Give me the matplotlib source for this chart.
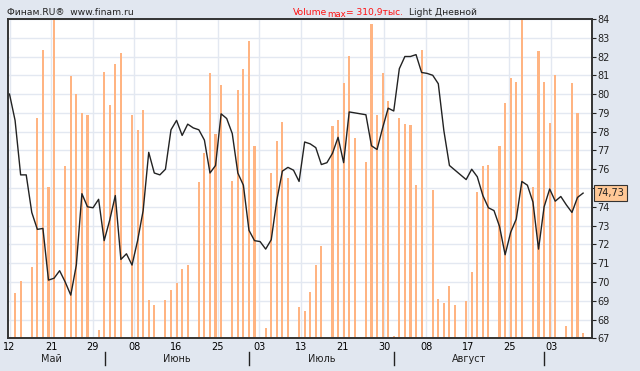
import numpy as np
import matplotlib
matplotlib.use("Agg")
import matplotlib.pyplot as plt
from matplotlib.transforms import blended_transform_factory

plt.rcParams['font.family'] = ['DejaVu Sans']

# close price, one value per slot (weekends take one empty slot)
close = [80.0, 78.6, 75.7, 75.7, 73.7, 72.8, 72.85, 70.1, 70.2, 70.6,
         70.0, 69.3, 70.9, 74.7, 74.0, 73.95, 74.4, 72.2, 73.3, 74.6,
         71.2, 71.5, 70.9, 72.2, 73.8, 76.9, 75.8, 75.7, 76.0, 78.1,
         78.6, 77.8, 78.4, 78.2, 78.1, 77.55, 75.8, 76.2, 78.95, 78.7,
         77.9, 75.8, 75.15, 72.75, 72.2, 72.15, 71.75, 72.25, 74.35, 75.9,
         76.1, 75.95, 75.35, 77.45, 77.35, 77.15, 76.25, 76.35, 76.85, 77.7,
         76.35, 79.05, 79.0, 78.95, 78.9, 77.25, 77.05, 78.2, 79.25, 79.1,
         81.35, 82.0, 82.0, 82.1, 81.15, 81.1, 81.0, 80.55, 78.05, 76.2,
         75.95, 75.7, 75.45, 76.0, 75.6, 74.6, 73.95, 73.8, 72.95, 71.45,
         72.65, 73.35, 75.35, 75.15, 74.25, 71.75, 74.0, 74.95, 74.3, 74.55,
         74.1, 73.7, 74.5, 74.73]

# volume, thousands
volume = [0, 44.5, 55.7, 0, 69.3, 214.2, 280.7, 147.1, 310.9, 0,
          167.6, 255.6, 237.5, 219.2, 217.6, 0, 8.1, 259.0, 227.6, 266.8,
          277.3, 0, 217.6, 202.4, 222.3, 37.3, 32.3, 0, 37.3, 46.9,
          53.8, 67.2, 71.8, 0, 151.7, 180.3, 258.4, 198.7, 246.9, 0,
          152.7, 242.2, 261.8, 289.8, 186.9, 0, 9.6, 160.7, 191.8, 210.5,
          156.1, 0, 30.8, 26.7, 45.1, 71.8, 89.9, 0, 207.1, 212.3,
          248.4, 274.5, 195.2, 0, 171.6, 305.9, 217.0, 258.4, 230.7, 2.2,
          214.5, 208.6, 207.7, 149.2, 281.1, 0, 144.6, 37.9, 34.2, 51.0,
          32.3, 0, 36.4, 65.0, 142.7, 168.2, 169.1, 0, 187.2, 228.8,
          253.1, 249.3, 310.9, 0, 147.4, 280.1, 249.3, 209.5, 255.9, 0,
          12.1, 248.4, 218.9, 5.6]

day_labels = ["12", "21", "29", "08", "16", "25", "03", "13", "21", "30",
              "08", "17", "25", "03"]
months = ["Май", "Июнь", "Июль", "Август"]
vol_max = 310.9

x = np.arange(len(close))
bg = '#E1E7F0'
grid_c = '#E3E8F1'
bar_c = '#FFB482'

fig = plt.figure(figsize=(6.4, 3.71), dpi=100, facecolor=bg)
axv = fig.add_axes([0.0125, 0.088, 0.9125, 0.861])
axp = axv.twinx()

# volume bars + grid (behind)
axv.set_facecolor('white')
axv.bar(x, volume, width=0.38, color=bar_c, zorder=2)
axv.set_ylim(0, vol_max)
axv.set_yticks(np.linspace(0, vol_max, 18))
axv.tick_params(axis='y', left=False, labelleft=False, right=False)
day_pos = np.arange(len(day_labels)) * 7.48
axv.set_xticks(day_pos)
axv.set_xticklabels(day_labels, fontsize=7)
axv.tick_params(axis='x', length=0, pad=2.5)
axv.grid(True, color=grid_c, linewidth=1, zorder=0)
axv.set_axisbelow(True)
axv.set_xlim(-0.27, 104.6)

# price line
last = close[-1]
axp.plot(x, close, color='#222222', linewidth=1.0, zorder=3)
axp.set_ylim(67, 84)
price_ticks = np.arange(67, 85)
axp.set_yticks(price_ticks)
# the label under the last-value box is hidden
axp.set_yticklabels(["" if abs(t - last) < 0.5 else str(t) for t in price_ticks])
axp.tick_params(axis='y', labelsize=7, length=3, width=0.8, pad=1,
                colors='#222222')
for ax in (axv, axp):
    for s in ax.spines.values():
        s.set_color('#333333')
        s.set_linewidth(1.2)

# last value box
axp.annotate("{:.2f}".format(last).replace('.', ','),
             xy=(1.0, last), xycoords=('axes fraction', 'data'),
             xytext=(3.2, 0), textcoords='offset points', va='center',
             ha='left', fontsize=7, color='#222222', annotation_clip=False,
             bbox=dict(boxstyle='square,pad=0.3', fc='#FFC896',
                       ec='#333333', lw=0.8))

# month row
trans = blended_transform_factory(axv.transData, axv.transAxes)
month_pos = [7.6, 30.05, 56.0, 82.5]
month_sep = [17.1, 43.0, 69.0, 96.0]
for m, p in zip(months, month_pos):
    axv.text(p, -0.066, m, transform=trans, ha='center', va='center',
             fontsize=7, color='#222222')
for s in month_sep:
    axv.plot([s, s], [-0.044, -0.082], transform=trans, color='#222222',
             linewidth=1, clip_on=False)

# header
head_y = 0.955
fig.text(0.011, head_y, "Финам.RU®  www.finam.ru", fontsize=6.6,
         color='#222222', va='bottom')
red = '#FF1010'
t1 = fig.text(0.457, head_y, "Volume", fontsize=6.6, color=red, va='bottom')
axv.annotate("max", xy=(1, 0), xycoords=t1, xytext=(0.3, -2.0),
             textcoords='offset points', fontsize=6.2, color=red,
             va='bottom', annotation_clip=False)
axv.annotate("= 310,9тыс.", xy=(1, 0), xycoords=t1, xytext=(14.0, 0),
             textcoords='offset points', fontsize=6.6, color=red,
             va='bottom', annotation_clip=False)
fig.text(0.639, head_y, "Light Дневной", fontsize=6.6, color='#222222',
         va='bottom')

fig.savefig("out.png", dpi=100, facecolor=bg)
